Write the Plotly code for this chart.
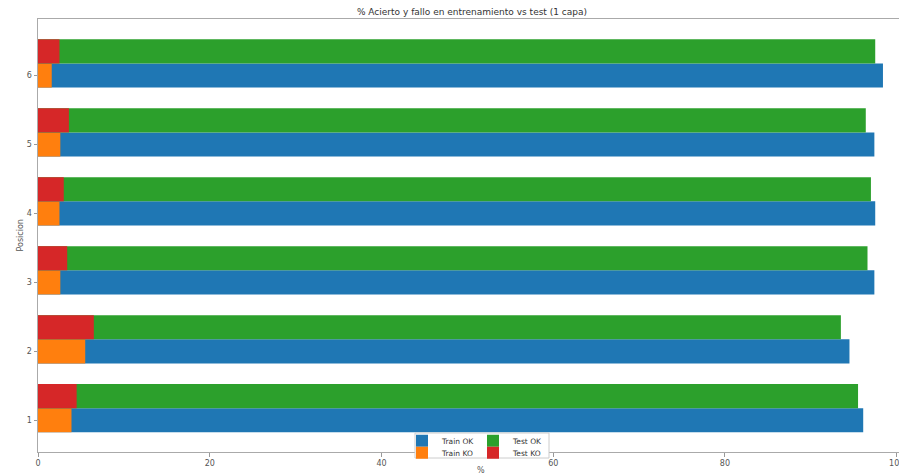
import plotly.graph_objects as go

positions = [1, 2, 3, 4, 5, 6]
train_ok = [96.1, 94.5, 97.4, 97.5, 97.4, 98.4]
train_ko = [3.9, 5.5, 2.6, 2.5, 2.6, 1.6]
test_ok = [95.5, 93.5, 96.6, 97.0, 96.4, 97.5]
test_ko = [4.5, 6.5, 3.4, 3.0, 3.6, 2.5]
x_ticks = [0, 20, 40, 60, 80, 100]

title = "% Acierto y fallo en entrenamiento vs test (1 capa)"
BAR_H = 0.35
OFF = 8  # page body margin
W, H = 907 - OFF, 475 - OFF
ML, MR, MT, MB = 30, 0, 11, 23
PW, PH = W - ML - MR, H - MT - MB

def px(x):
    # reference-screen pixel -> paper
    return (x - OFF - ML) / PW

def py(y):
    return (H - MB - (y - OFF)) / PH

C_TRAIN_OK = "#1f77b4"
C_TRAIN_KO = "#ff7f0e"
C_TEST_OK = "#2ca02c"
C_TEST_KO = "#d62728"

test_y = [p + BAR_H for p in positions]

fig = go.Figure()
fig.add_trace(go.Bar(y=positions, x=train_ok, orientation="h", width=BAR_H,
                     marker=dict(color=C_TRAIN_OK, line=dict(width=0)),
                     name="Train OK", legend="legend"))
fig.add_trace(go.Bar(y=positions, x=train_ko, orientation="h", width=BAR_H,
                     marker=dict(color=C_TRAIN_KO, line=dict(width=0)),
                     name="Train KO", legend="legend2"))
fig.add_trace(go.Bar(y=test_y, x=test_ok, orientation="h", width=BAR_H,
                     marker=dict(color=C_TEST_OK, line=dict(width=0)),
                     name="Test OK", legend="legend3"))
fig.add_trace(go.Bar(y=test_y, x=test_ko, orientation="h", width=BAR_H,
                     marker=dict(color=C_TEST_KO, line=dict(width=0)),
                     name="Test KO", legend="legend4"))

font = dict(family="DejaVu Sans", size=8, color="#444")
leg_common = dict(bgcolor="rgba(0,0,0,0)", borderwidth=0, font=dict(family="DejaVu Sans", size=7.5, color="#333"),
                  xanchor="left", yanchor="middle", itemwidth=30, orientation="v")

fig.update_layout(
    width=W, height=H,
    margin=dict(l=ML, r=MR, t=MT, b=MB, pad=0, autoexpand=False),
    paper_bgcolor="white", plot_bgcolor="white",
    barmode="overlay",
    font=font,
    title=dict(text=title, x=px(472), xanchor="center", y=1 - (12 - OFF) / H, yanchor="middle",
               yref="container", xref="paper",
               font=dict(family="DejaVu Sans", size=9, color="#333")),
    xaxis=dict(range=[0, 101.2], tickvals=x_ticks, ticks="outside", ticklen=3.5, tickcolor="#999",
               showline=True, linecolor="#aaa", linewidth=1, mirror=True, automargin=False,
               showgrid=False, zeroline=False, tickfont=dict(size=8, color="#555")),
    yaxis=dict(range=[0.54, 6.82], tickvals=positions, ticks="outside", ticklen=3.5, tickcolor="#999",
               showline=True, linecolor="#aaa", linewidth=1, automargin=False,
               showgrid=False, zeroline=False, tickfont=dict(size=8, color="#555")),
    showlegend=True,
    legend=dict(x=px(402), y=py(440.7), **leg_common),
    legend2=dict(x=px(402), y=py(452.7), **leg_common),
    legend3=dict(x=px(473), y=py(440.7), **leg_common),
    legend4=dict(x=px(473), y=py(452.7), **leg_common),
    shapes=[dict(type="rect", xref="paper", yref="paper",
                 x0=px(415), x1=px(549), y0=py(458), y1=py(433),
                 fillcolor="white", line=dict(color="#ccc", width=1), layer="above")],
    annotations=[
        dict(text="%", xref="paper", yref="paper", x=px(481), y=py(470), showarrow=False,
             xanchor="center", yanchor="middle", font=dict(size=8, color="#555")),
        dict(text="Posicion", xref="paper", yref="paper", x=px(20), y=0.5, showarrow=False,
             textangle=-90, xanchor="center", yanchor="middle", font=dict(size=8, color="#555")),
    ],
)

fig.write_html("out.html")
